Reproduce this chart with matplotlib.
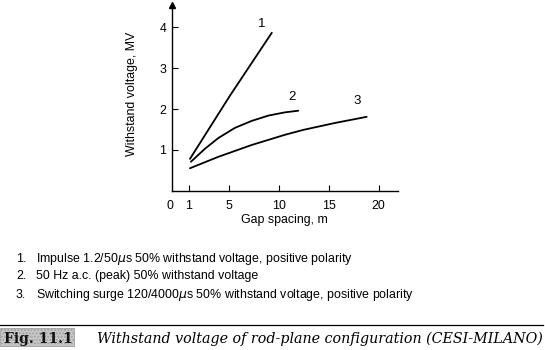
import matplotlib
matplotlib.use("Agg")
import matplotlib.pyplot as plt
from matplotlib.patches import Rectangle
from matplotlib.lines import Line2D

# ---- data ----
x_impulse = [1.1, 5.11, 9.3]
y_impulse = [0.78, 2.33, 3.87]

x_ac = [1.2, 2.61, 3.94, 5.61, 7.28, 8.95, 10.62, 11.95]
y_ac = [0.71, 1.03, 1.29, 1.54, 1.71, 1.84, 1.92, 1.96]

x_switch = [1.1, 3.94, 7.28, 10.62, 12.45, 15.63, 18.8]
y_switch = [0.55, 0.83, 1.12, 1.37, 1.49, 1.66, 1.81]

curve_labels = ["1", "2", "3"]
label_x = [8.29, 11.3, 17.8]
label_y = [3.94, 2.16, 2.06]

x_ticks = [1, 5, 10, 15, 20]
y_ticks = [1, 2, 3, 4]

legend_lines = [
    "Impulse 1.2/50$\\mu$s 50% withstand voltage, positive polarity",
    "50 Hz a.c. (peak) 50% withstand voltage",
    "Switching surge 120/4000$\\mu$s 50% withstand voltage, positive polarity",
]
caption_tag = "Fig. 11.1"
caption = "Withstand voltage of rod-plane configuration (CESI-MILANO)"

# ---- figure ----
plt.rcParams['font.family'] = ['Liberation Sans', 'DejaVu Sans']
W, H = 545, 350
fig = plt.figure(figsize=(W / 100, H / 100), dpi=100)

def fx(px):
    return px / W

def fy(py):
    return 1 - py / H

ax = fig.add_axes([fx(171.7), fy(190.7), fx(398) - fx(171.7), fy(5) - fy(190.7)])
ax.set_xlim(-0.73, 21.94)
ax.set_ylim(0, 4.55)

for xs, ys in [(x_impulse, y_impulse), (x_ac, y_ac), (x_switch, y_switch)]:
    ax.plot(xs, ys, color='black', lw=1.3, solid_capstyle='round', solid_joinstyle='round')

for t, xx, yy in zip(curve_labels, label_x, label_y):
    ax.text(xx, yy, t, fontsize=9.5, ha='center', va='bottom')

ax.spines['top'].set_visible(False)
ax.spines['right'].set_visible(False)
ax.spines['left'].set_linewidth(1.0)
ax.spines['bottom'].set_linewidth(1.0)

ax.set_xticks(x_ticks)
ax.set_yticks(y_ticks)
ax.tick_params(axis='x', direction='in', length=4, width=0.8, pad=6.5, labelsize=8.9)
ax.tick_params(axis='y', direction='in', length=4, width=0.8, pad=4, labelsize=8.9)

# origin label
ax.annotate("0", xy=(0, 0), xycoords='axes fraction', xytext=(-1.5, -6.5),
            textcoords='offset points', ha='center', va='top', fontsize=8.9)

# arrow on the y axis
ax.plot([0], [1], marker='^', color='black', markersize=4, transform=ax.transAxes,
        clip_on=False)

ax.set_xlabel("Gap spacing, m", fontsize=8.9)
ax.set_ylabel("Withstand voltage, MV", fontsize=8.9)
ax.xaxis.set_label_coords(0.496, -0.128)
ax.yaxis.set_label_coords(-0.147, 0.52)

# legend text lines (baselines)
leg_base = [262.3, 279.0, 297.7]
for i, (txt, py) in enumerate(zip(legend_lines, leg_base)):
    fig.text(fx(16), fy(py), f"{i + 1}.", fontsize=8.9, va='baseline', ha='left')
    fig.text(fx(36), fy(py), txt, fontsize=8.9, va='baseline', ha='left')

# caption rule and box
fig.add_artist(Line2D([fx(0), fx(543)], [fy(325), fy(325)], color='black', lw=0.9))
fig.add_artist(Rectangle((fx(0), fy(346)), fx(74), fy(328) - fy(346),
                         facecolor='#c8c8c8', edgecolor='#a0a0a0', lw=0.6, hatch='.....'))
fig.text(fx(38), fy(337.5), caption_tag, fontsize=10, fontweight='bold',
         family=['DejaVu Serif'], ha='center', va='center_baseline', color='#111111')
fig.text(fx(97), fy(337.5), caption, fontsize=10.3, style='italic',
         family=['DejaVu Serif'], ha='left', va='center_baseline')

fig.savefig("out.png", dpi=100)
